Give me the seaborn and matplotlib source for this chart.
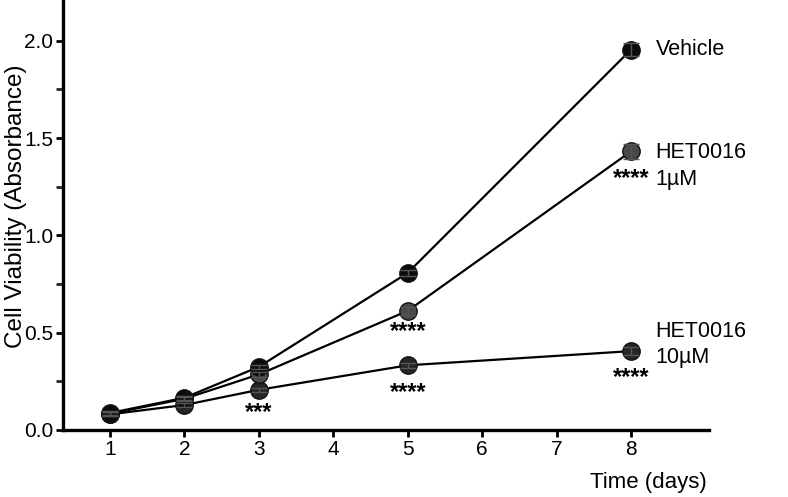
import numpy as np
import pandas as pd
import matplotlib
matplotlib.use("Agg")
import matplotlib.pyplot as plt
import seaborn as sns

days = [1, 2, 3, 5, 8]
vehicle = [0.087, 0.165, 0.324, 0.807, 1.955]
het_1um = [0.083, 0.160, 0.285, 0.612, 1.432]
het_10um = [0.080, 0.128, 0.206, 0.332, 0.405]
err_vehicle = [0.01, 0.01, 0.012, 0.015, 0.035]
err_1um = [0.01, 0.01, 0.012, 0.02, 0.04]
err_10um = [0.01, 0.01, 0.01, 0.012, 0.02]
series_names = ["Vehicle", "HET0016\n1\u00b5M", "HET0016\n10\u00b5M"]
colors = ["#0c0c0c", "#4a4a4a", "#262626"]
x_ticks = [1, 2, 3, 4, 5, 6, 7, 8]
y_ticks = [0.0, 0.5, 1.0, 1.5, 2.0]
# significance stars: (day, y position, text)
stars_day = [3, 5, 5, 8, 8]
stars_y = [0.090, 0.505, 0.19, 1.29, 0.27]
stars_txt = ["***", "****", "****", "****", "****"]
label_y = [1.955, 1.357, 0.44]

sns.set_theme(style="ticks")
plt.rcParams['font.family'] = ['Liberation Sans', 'DejaVu Sans']
plt.rcParams['text.color'] = 'black'
plt.rcParams['axes.labelcolor'] = 'black'

df = pd.DataFrame({
    "day": days * 3,
    "value": vehicle + het_1um + het_10um,
    "err": err_vehicle + err_1um + err_10um,
    "group": sum([[n] * len(days) for n in series_names], []),
})

fig = plt.figure(figsize=(7.88, 4.97), dpi=100)
ax = fig.add_axes([0.080, 0.135, 0.820, 0.865])

order = series_names[::-1]
pal = dict(zip(series_names, colors))
sns.lineplot(data=df, x="day", y="value", hue="group", hue_order=order,
             palette=pal, marker="o", markersize=12.5, markeredgecolor="#111111",
             markeredgewidth=1, linewidth=1.6, legend=False, ax=ax, zorder=3)
main_lines = list(ax.lines)
for line, name in zip(main_lines, order):
    line.set_color("black")
    line.set_markerfacecolor(pal[name])
    line.set_markeredgecolor("#111111")

for name in order:
    sub = df[df.group == name]
    ax.errorbar(sub.day, sub.value, yerr=sub.err, fmt="none",
                ecolor="#555555", elinewidth=1.0, capsize=6, capthick=1.0, zorder=4)

ax.set_xlim(0.37, 9.05)
ax.set_ylim(0, 2.21)
ax.set_xticks(x_ticks)
ax.set_yticks(y_ticks)
ax.set_yticklabels([f"{v:.1f}" for v in y_ticks])
ax.set_yticks([0.25, 0.75, 1.25, 1.75], minor=True)
ax.tick_params(axis="both", which="major", length=5, width=2, labelsize=15, pad=2, colors="black")
ax.tick_params(axis="y", which="minor", length=5, width=2)
for s in ["top", "right"]:
    ax.spines[s].set_visible(False)
for s in ["left", "bottom"]:
    ax.spines[s].set_linewidth(2.4)
    ax.spines[s].set_color("black")

ax.set_ylabel("Cell Viability (Absorbance)", fontsize=17.5)
ax.yaxis.set_label_coords(-0.056, 0.52)
ax.set_xlabel("")
fig.text(0.897, 0.03, "Time (days)", fontsize=16, ha="right", va="center")

for name, yv in zip(series_names, label_y):
    ax.text(8.33, yv, name, fontsize=15.5, ha="left", va="center", linespacing=1.35)

for d, yv, t in zip(stars_day, stars_y, stars_txt):
    ax.text(d, yv, t, fontsize=17, ha="center", va="center", fontweight="bold")

fig.savefig("out.png", dpi=100)
